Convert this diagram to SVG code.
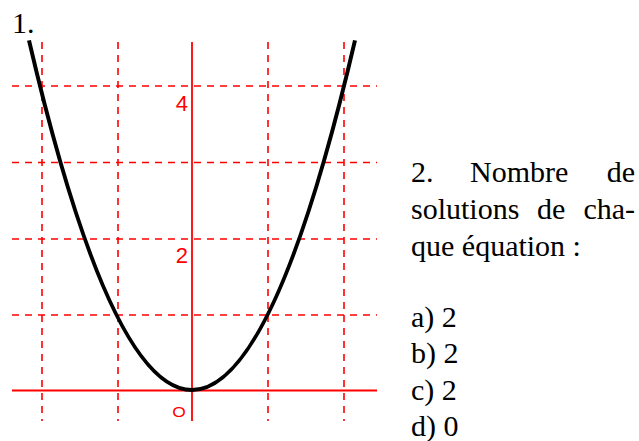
<svg xmlns="http://www.w3.org/2000/svg" width="639" height="441" viewBox="0 0 639 441">
<style>
.grid{stroke:#ff0000;stroke-width:1.6;stroke-dasharray:7 6;fill:none}
.axis{stroke:#ff0000;stroke-width:1.8;fill:none}
.lab{font-family:"Liberation Sans",Arial,sans-serif;font-size:22px;fill:#ff0000}
.txt{font-family:"Liberation Serif","Times New Roman",serif;font-size:30px;fill:#000}
</style>
<rect width="639" height="441" fill="#fff"/>
<g id="grid">
<line class="grid" x1="42" y1="42" x2="42" y2="421"/>
<line class="grid" x1="118" y1="42" x2="118" y2="421"/>
<line class="grid" x1="268" y1="42" x2="268" y2="421"/>
<line class="grid" x1="344" y1="42" x2="344" y2="421"/>
<line class="grid" x1="12" y1="86" x2="377" y2="86"/>
<line class="grid" x1="12" y1="162.5" x2="377" y2="162.5"/>
<line class="grid" x1="12" y1="239" x2="377" y2="239"/>
<line class="grid" x1="12" y1="315" x2="377" y2="315"/>
</g>
<g id="axes">
<line class="axis" x1="12" y1="390.5" x2="377" y2="390.5"/>
<line class="axis" x1="192" y1="42" x2="192" y2="421"/>
<text class="lab" x="188" y="111" text-anchor="end">4</text>
<text class="lab" x="188" y="263" text-anchor="end">2</text>
<text class="lab" transform="translate(179,416.5) scale(1.2,1)" text-anchor="middle" style="font-size:14.5px">O</text>
</g>
<g id="curve">
<path d="M29,40.4 Q192,739.6 355,40.4" fill="none" stroke="#000" stroke-width="4" stroke-linejoin="round"/>
</g>
<g id="texts">
<text class="txt" x="12" y="33">1.</text>
<text class="txt" y="182"><tspan x="411">2.</tspan><tspan x="470">Nombre</tspan><tspan x="635" text-anchor="end">de</tspan></text>
<text class="txt" y="219"><tspan x="411">solutions</tspan><tspan x="537">de</tspan><tspan x="635" text-anchor="end">cha-</tspan></text>
<text class="txt" x="411" y="256">que équation :</text>
<text class="txt" x="411" y="327">a) 2</text>
<text class="txt" x="411" y="363">b) 2</text>
<text class="txt" x="411" y="400">c) 2</text>
<text class="txt" x="411" y="436">d) 0</text>
</g>
</svg>
